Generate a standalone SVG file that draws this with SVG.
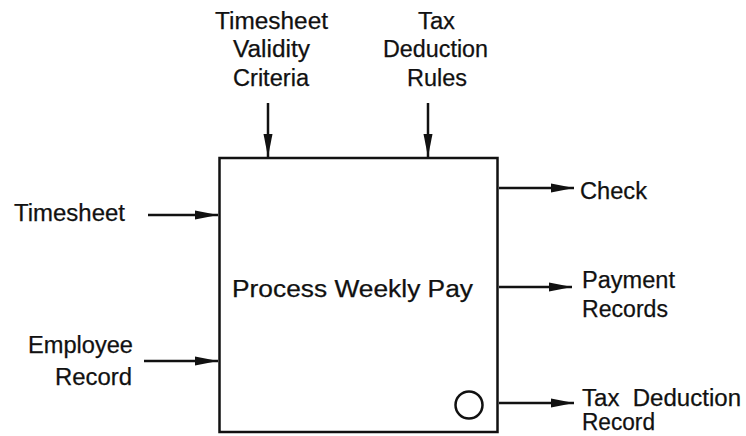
<svg xmlns="http://www.w3.org/2000/svg" width="746" height="436" viewBox="0 0 746 436">
  <style>
    text { font-family: "Liberation Sans", Arial, Helvetica, sans-serif; font-size: 23.5px; fill: #111; stroke: #111; stroke-width: 0.25; white-space: pre; }
    .box { fill: #fff; stroke: #111; stroke-width: 2.5; }
    .flow { stroke: #111; stroke-width: 2.5; fill: none; marker-end: url(#arrow); }
  </style>
  <defs>
    <marker id="arrow" viewBox="0 0 23 10" refX="23" refY="5" markerWidth="23" markerHeight="10" markerUnits="userSpaceOnUse" orient="auto">
      <path d="M0,0.5 L23,5 L0,9.5 Z" fill="#111"/>
    </marker>
  </defs>
  <rect width="746" height="436" fill="#fff"/>

  <!-- activity box -->
  <g id="process-weekly-pay">
    <rect class="box" x="219.5" y="158" width="278" height="274"/>
    <text x="232" y="297" textLength="241" lengthAdjust="spacingAndGlyphs">Process Weekly Pay</text>
    <circle cx="469" cy="405" r="13.5" fill="none" stroke="#111" stroke-width="2.5"/>
  </g>

  <!-- inputs, controls and outputs -->
  <g id="timesheet">
    <text x="14" y="221" textLength="111" lengthAdjust="spacingAndGlyphs">Timesheet</text>
  </g>
  <g id="employee-record">
    <text x="28" y="353" textLength="105" lengthAdjust="spacingAndGlyphs">Employee</text>
    <text x="55" y="385" textLength="77" lengthAdjust="spacingAndGlyphs">Record</text>
  </g>
  <g id="timesheet-validity-criteria">
    <text x="215" y="29" textLength="113" lengthAdjust="spacingAndGlyphs">Timesheet</text>
    <text x="233" y="57" textLength="77" lengthAdjust="spacingAndGlyphs">Validity</text>
    <text x="233" y="86" textLength="76" lengthAdjust="spacingAndGlyphs">Criteria</text>
  </g>
  <g id="tax-deduction-rules">
    <text x="418" y="29" textLength="37" lengthAdjust="spacingAndGlyphs">Tax</text>
    <text x="383" y="57" textLength="105" lengthAdjust="spacingAndGlyphs">Deduction</text>
    <text x="407" y="86" textLength="60" lengthAdjust="spacingAndGlyphs">Rules</text>
  </g>
  <g id="check">
    <text x="580" y="199" textLength="67" lengthAdjust="spacingAndGlyphs">Check</text>
  </g>
  <g id="payment-records">
    <text x="582" y="288" textLength="93" lengthAdjust="spacingAndGlyphs">Payment</text>
    <text x="582" y="317" textLength="86" lengthAdjust="spacingAndGlyphs">Records</text>
  </g>
  <g id="tax-deduction-record">
    <text x="582" y="406" textLength="159" lengthAdjust="spacingAndGlyphs">Tax  Deduction</text>
    <text x="582" y="430" textLength="73" lengthAdjust="spacingAndGlyphs">Record</text>
  </g>

  <!-- connectors -->
  <g id="connectors">
    <line class="flow" x1="148" y1="215" x2="218" y2="215"/>
    <line class="flow" x1="144" y1="361" x2="218" y2="361"/>
    <line class="flow" x1="268" y1="103" x2="268" y2="157"/>
    <line class="flow" x1="428" y1="103" x2="428" y2="157"/>
    <line class="flow" x1="499" y1="188" x2="574" y2="188"/>
    <line class="flow" x1="499" y1="287" x2="572" y2="287"/>
    <line class="flow" x1="499" y1="403" x2="574" y2="403"/>
  </g>
</svg>
